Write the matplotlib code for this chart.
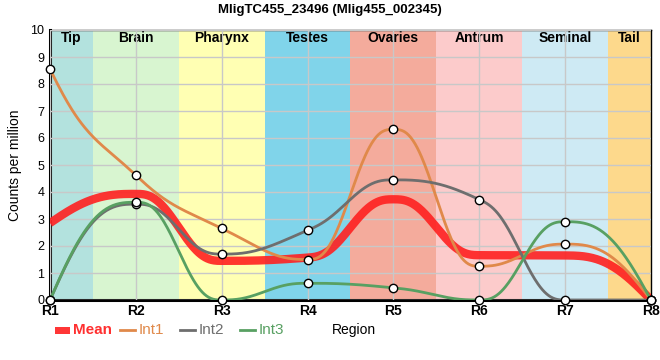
import numpy as np
import matplotlib.pyplot as plt
from matplotlib.lines import Line2D
from matplotlib.patches import Rectangle

plt.rcParams['font.family'] = ['Liberation Sans', 'DejaVu Sans']

title = "MligTC455_23496 (Mlig455_002345)"
regions = ["R1", "R2", "R3", "R4", "R5", "R6", "R7", "R8"]
tissues = ["Tip", "Brain", "Pharynx", "Testes", "Ovaries", "Antrum", "Seminal", "Tail"]
tissue_colors = ["#b3e2de", "#d8f5d0", "#ffffb3", "#80d4ea",
                 "#f4ab9c", "#fccbcb", "#ceeaf4", "#fdd98c"]

int1 = [8.55, 4.62, 2.65, 1.50, 6.32, 1.25, 2.07, 0.0]
int2 = [0.0, 3.55, 1.70, 2.58, 4.45, 3.72, 0.0, 0.0]
int3 = [0.0, 3.62, 0.0, 0.62, 0.45, 0.0, 2.90, 0.0]
mean = [2.85, 3.93, 1.45, 1.57, 3.73, 1.66, 1.65, 0.0]


def smooth_curve(vals, n=80):
    """Monotone-style slopes with a quintic hermite between the points."""
    y = np.asarray(vals, float)
    s = np.diff(y)
    m = np.zeros(len(y))
    for i in range(1, len(y) - 1):
        p = (s[i - 1] + s[i]) / 2
        m[i] = (np.sign(s[i - 1]) + np.sign(s[i])) * min(abs(s[i - 1]), abs(s[i]), 0.5 * abs(p))
    m[0] = 2 * s[0] - m[1] / 2
    m[-1] = 2 * s[-1] - m[-2] / 2
    t = np.linspace(0, 1, n)
    h0 = 1 - 10 * t**3 + 15 * t**4 - 6 * t**5
    h1 = t - 6 * t**3 + 8 * t**4 - 3 * t**5
    h2 = -4 * t**3 + 7 * t**4 - 3 * t**5
    h3 = 10 * t**3 - 15 * t**4 + 6 * t**5
    xs, ys = [], []
    for i in range(len(y) - 1):
        xs.append(i + t)
        ys.append(h0 * y[i] + h1 * m[i] + h2 * m[i + 1] + h3 * y[i + 1])
    return np.concatenate(xs), np.concatenate(ys)


fig = plt.figure(figsize=(6.6, 3.6), dpi=100)
ax = fig.add_axes([50 / 660, 60 / 360, 601 / 660, 270 / 360])

x = np.arange(len(regions))
bounds = [0, 0.5, 1.5, 2.5, 3.5, 4.5, 5.5, 6.5, 7]
for i, (name, col) in enumerate(zip(tissues, tissue_colors)):
    ax.axvspan(bounds[i], bounds[i + 1], color=col, lw=0, zorder=0)
    ax.text((bounds[i] + bounds[i + 1]) / 2, 9.72, name, ha='center', va='center',
            fontsize=10, fontweight='bold', zorder=1)

ax.grid(True, color='#c8c8c8', lw=1, zorder=1)
ax.set_axisbelow(False)

series = [
    ("Int1", int1, "#e0894a"),
    ("Int2", int2, "#6e6e6e"),
    ("Int3", int3, "#58a062"),
]
mean_color = '#ff2020'

cx, cy = smooth_curve(mean)
ax.plot(cx, cy, color=mean_color, lw=6, alpha=0.9, solid_capstyle='butt', zorder=3)
for name, vals, col in series:
    cx, cy = smooth_curve(vals)
    ax.plot(cx, cy, color=col, lw=2, zorder=4)
for name, vals, col in series:
    ax.plot(x, vals, 'o', ms=6, mfc='white', mec='black', mew=1, zorder=5, clip_on=False)

ax.set_xlim(0, 7)
ax.set_ylim(0, 10)
ax.set_xticks(x)
ax.set_xticklabels(regions, fontweight='bold', fontsize=10)
ax.set_yticks(range(0, 11))
ax.tick_params(axis='y', labelsize=9, length=0, pad=4)
ax.tick_params(axis='x', length=0, pad=3)
ax.set_ylabel("Counts per million", fontsize=10, labelpad=6)

for side in ['left', 'bottom']:
    ax.spines[side].set_linewidth(2.2)
for side in ['top', 'right']:
    ax.spines[side].set_linewidth(1)

fig.text(0.5, 0.972, title, ha='center', va='center', fontsize=9.5, fontweight='bold')

# legend row drawn by hand so the items sit where the reference has them
ly = 30 / 360
fig.add_artist(Rectangle((55 / 660, ly - 3.5 / 360), 15 / 660, 7 / 360,
                         transform=fig.transFigure, color=mean_color, alpha=0.9, lw=0))
fig.text(73 / 660, ly, "Mean", color='#ff3030', fontsize=11, fontweight='bold',
         ha='left', va='center')
for k, (name, vals, col) in enumerate(series):
    x0 = 120 + k * 60
    fig.add_artist(Line2D([x0 / 660, (x0 + 15) / 660], [ly, ly], color=col, lw=2,
                          transform=fig.transFigure))
    fig.text((x0 + 19) / 660, ly, name, color=col, fontsize=11, ha='left', va='center')

fig.text(332 / 660, ly, "Region", ha='left', va='center', fontsize=10)

fig.savefig("out.png", dpi=100)
